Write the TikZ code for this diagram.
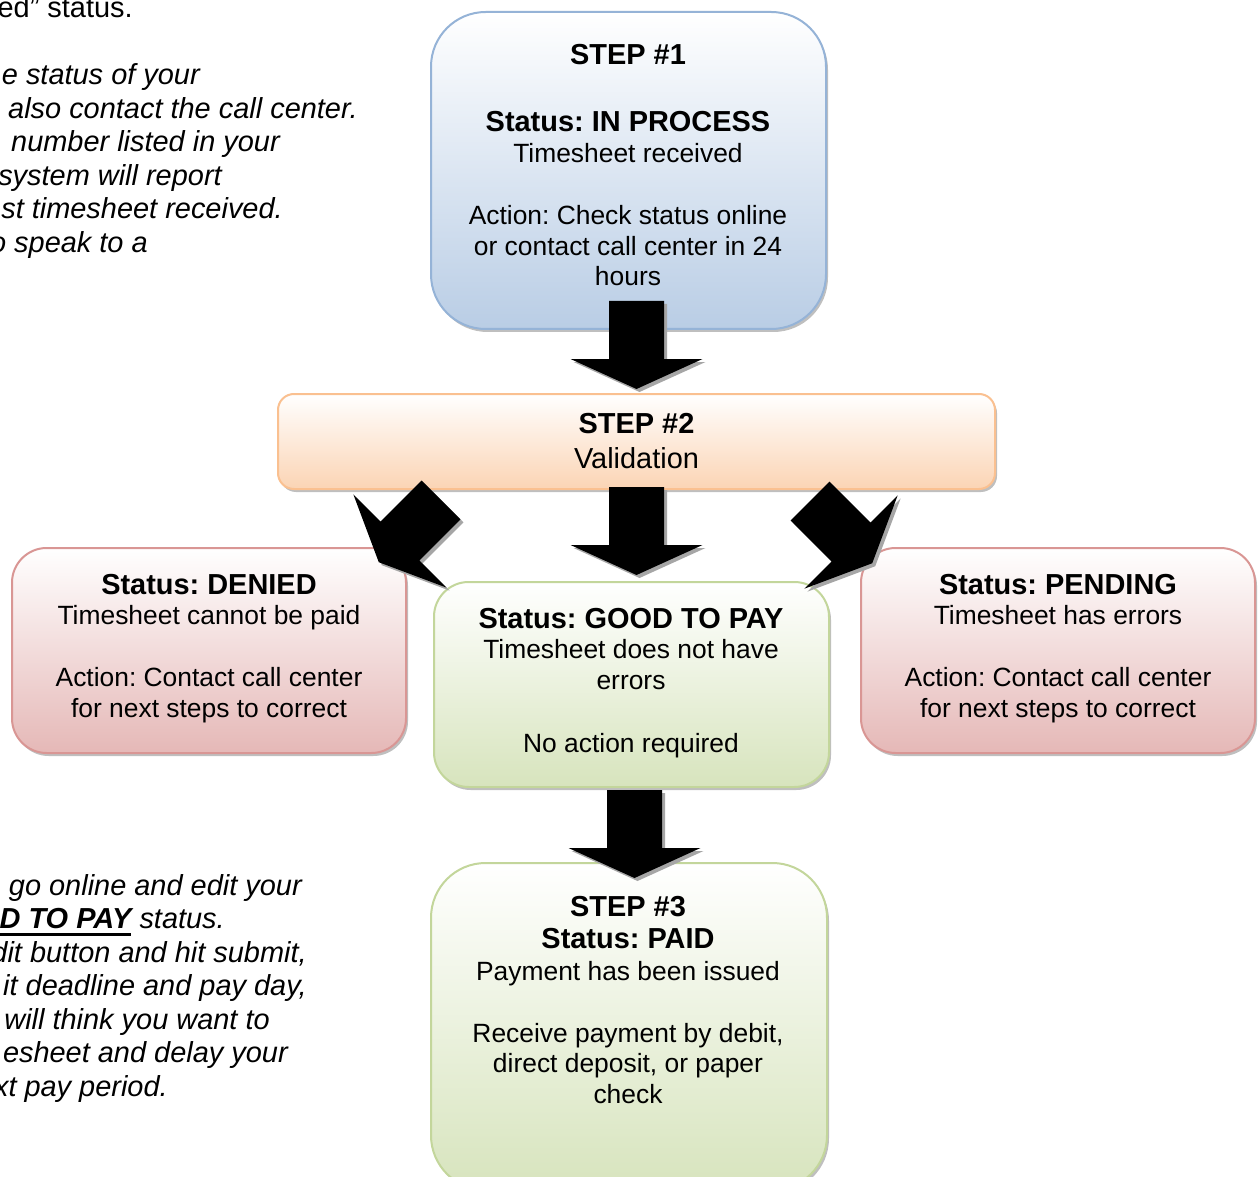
\documentclass[tikz,border=0pt]{standalone}
\usepackage{fontspec}
\setmainfont{Liberation Sans}
\usetikzlibrary{calc,fit,shadows}
\frenchspacing

\definecolor{bluebot}{RGB}{185,205,229}
\definecolor{blueln}{RGB}{149,179,215}
\definecolor{orbot}{RGB}{251,212,180}
\definecolor{orln}{RGB}{250,192,144}
\definecolor{redbot}{RGB}{229,184,183}
\definecolor{redln}{RGB}{217,150,148}
\definecolor{grbot}{RGB}{215,228,189}
\definecolor{grln}{RGB}{195,214,155}

\newcommand\nf{\fontsize{19.8pt}{23pt}\selectfont}
\newcommand\bfnt{\fontsize{21.7pt}{25pt}\selectfont\bfseries}
\newcommand\sidefnt{\fontsize{21.7pt}{25pt}\selectfont}
\newcommand\gap[1]{\noalign{\vskip#1}}
\newcommand\btxt[1]{\vtop{\nf\frenchspacing\baselineskip=23pt\lineskiplimit=-100pt\lineskip=0pt\halign{\hfil##\hfil\cr#1\crcr}}}
\newcommand\myul[1]{\setbox0\hbox{#1}\rlap{\rule[-5.5pt]{\wd0}{1.8pt}}\box0\relax}

\tikzset{
  box/.style={draw, line width=1.5pt, inner sep=0pt,
    drop shadow={shadow xshift=1.5pt, shadow yshift=-2.25pt, fill=black, opacity=0.25}},
  bluebox/.style={box, draw=blueln, top color=white, bottom color=bluebot, rounded corners=41pt},
  orbox/.style={box, draw=orln, top color=white, bottom color=orbot, rounded corners=12pt},
  redbox/.style={box, draw=redln, top color=white, bottom color=redbot, rounded corners=26pt},
  grbox/.style={box, draw=grln, top color=white, bottom color=grbot, rounded corners=26pt},
  grbigbox/.style={box, draw=grln, top color=white, bottom color=grbot, rounded corners=41pt},
  boxtxt/.style={anchor=base, inner sep=0pt},
  sidetxt/.style={anchor=base east, inner sep=0pt, font=\sidefnt\itshape},
  barrowshape/.pic={\fill (-27.5,0) -- (27.5,0) -- (27.5,58) -- (66,58) -- (0,88) -- (-66,58) -- (-27.5,58) -- cycle;},
}

\begin{document}
\begin{tikzpicture}[x=0.75pt, y=-0.75pt]
\useasboundingbox (0,0) rectangle (1258,1177);
\clip (0,0) rectangle (1258,1177);
\fill[white] (0,0) rectangle (1258,1177);

% side texts (top left)
\node[anchor=base east, inner sep=0pt, font=\sidefnt] (tl1) at (133,17.5) {ed” status.};
\node[sidetxt] (tl2) at (200,85) {e status of your};
\node[sidetxt] (tl3) at (358,118.5) {also contact the call center.};
\node[sidetxt] (tl4) at (280,152) {number listed in your};
\node[sidetxt] (tl5) at (222,185.5) {system will report};
\node[sidetxt] (tl6) at (283,219) {st timesheet received.};
\node[sidetxt] (tl7) at (148,252.5) {o speak to a};

% side texts (bottom left)
\node[sidetxt] (bl1) at (302,895) {go online and edit your};
\node[sidetxt] (bl2) at (225,928.5) {\myul{\bfseries D TO PAY} status.};
\node[sidetxt] (bl3) at (307,962) {dit button and hit submit,};
\node[sidetxt] (bl4) at (307,995.5) {it deadline and pay day,};
\node[sidetxt] (bl5) at (270,1029) {will think you want to};
\node[sidetxt] (bl6) at (288,1062.5) {esheet and delay your};
\node[sidetxt] (bl7) at (168,1096) {xt pay period.};

% boxes
\node[bluebox, fit={(431,12)(826,329)}] (s1) {};
\node[orbox, fit={(278,394)(995,489)}] (s2) {};
\node[redbox, fit={(12,548)(406,753)}] (den) {};
\node[redbox, fit={(861,548)(1255,753)}] (pen) {};
\node[grbox, fit={(434,582)(829,787)}] (good) {};
\node[grbigbox, fit={(431,863)(827,1190)}] (s3) {};

% box texts
\node[boxtxt] (s1t) at (628,65) {\btxt{{\bfnt STEP \#1}\cr\gap{27.25pt}
  {\bfnt Status: IN PROCESS}\cr
  Timesheet received\cr\gap{23.5pt}
  Action: Check status online\cr
  or contact call center in 24\cr
  hours}};
\node[boxtxt] (s2t) at (636.5,433) {\btxt{{\bfnt STEP \#2}\cr\gap{3.25pt}
  {\sidefnt Validation}}};
\node[boxtxt] (dent) at (209,594) {\btxt{{\bfnt Status: DENIED}\cr
  Timesheet cannot be paid\cr\gap{23.5pt}
  Action: Contact call center\cr
  for next steps to correct}};
\node[boxtxt] (pent) at (1058,594) {\btxt{{\bfnt Status: PENDING}\cr
  Timesheet has errors\cr\gap{23.5pt}
  Action: Contact call center\cr
  for next steps to correct}};
\node[boxtxt] (goodt) at (631,628) {\btxt{{\bfnt Status: GOOD TO PAY}\cr
  Timesheet does not have\cr
  errors\cr\gap{24.25pt}
  No action required}};
\node[boxtxt] (s3t) at (628,916) {\btxt{{\bfnt STEP \#3}\cr\gap{1pt}
  {\bfnt Status: PAID}\cr\gap{1pt}
  Payment has been issued\cr\gap{23.5pt}
  Receive payment by debit,\cr
  direct deposit, or paper\cr
  check}};

% block arrows
\coordinate (a1) at (636.5,301);
\coordinate (a2) at (636.5,487);
\coordinate (a3) at (634.5,790);
\coordinate (aL) at (441,500);
\coordinate (aR) at (810,501);
\foreach \c/\r in {a1/0, a2/0, a3/0, aL/-45, aR/45} {
  \pic[rotate=\r, black!35] at ($(\c)+(3,3)$) {barrowshape};
  \pic[rotate=\r, black] at (\c) {barrowshape};
}
\end{tikzpicture}
\end{document}
